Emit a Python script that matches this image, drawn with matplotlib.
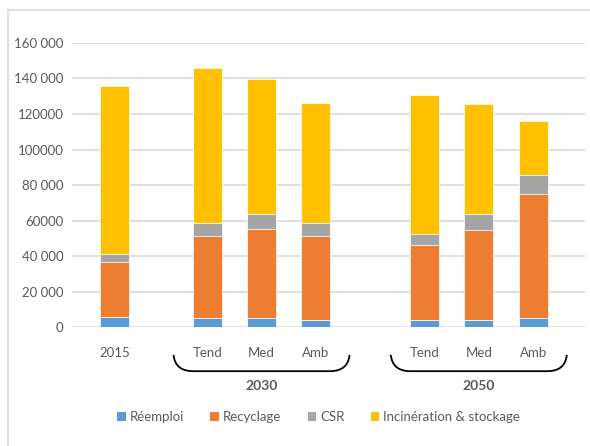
import matplotlib.pyplot as plt
from matplotlib.patches import Patch, PathPatch
from matplotlib.path import Path
import matplotlib.transforms as mtransforms

plt.rcParams['font.family'] = ['Lato', 'DejaVu Sans']

# data
labels = ['2015', 'Tend', 'Med', 'Amb', 'Tend', 'Med', 'Amb']
slots = [0, 1.7, 2.7, 3.7, 5.7, 6.7, 7.7]
groups = ['2030', '2050']
group_centers = [2.7, 6.7]

reemploi = [5600, 5400, 5400, 4300, 4300, 4300, 5400]
recyclage = [31000, 46200, 49800, 47300, 42200, 50600, 69600]
csr = [4800, 7100, 8600, 7100, 6000, 8900, 10900]
incineration = [94400, 87100, 75800, 67400, 78200, 62000, 30000]

series = [('Réemploi', reemploi, '#5B9BD5'),
          ('Recyclage', recyclage, '#ED7D31'),
          ('CSR', csr, '#A5A5A5'),
          ('Incinération & stockage', incineration, '#FFC000')]

yticks = [0, 20000, 40000, 60000, 80000, 100000, 120000, 140000, 160000]
ytick_labels = ['0', '20 000', '40 000', '60000', '80 000', '100000', '120000', '140 000', '160 000']

grey = '#595959'

fig = plt.figure(figsize=(5.9, 4.46), dpi=100)
ax = fig.add_axes([0.122, 0.266, 0.870, 0.638])

bottom = [0] * len(slots)
for name, vals, col in series:
    ax.bar(slots, vals, width=0.53, bottom=bottom, color=col,
           edgecolor='white', linewidth=0.5, zorder=3)
    bottom = [b + v for b, v in zip(bottom, vals)]

ax.set_xlim(-0.79, 8.66)
ax.set_ylim(0, 160000)
ax.set_yticks(yticks)
ax.set_yticklabels(ytick_labels, color=grey, fontsize=9.5)
ax.set_xticks(slots)
ax.set_xticklabels(labels, color=grey, fontsize=9.5)
ax.tick_params(axis='y', length=0, pad=6)
ax.tick_params(axis='x', length=0, pad=14)
ax.grid(axis='y', color='#D9D9D9', linewidth=1.2, zorder=0)
for s in ax.spines.values():
    s.set_visible(False)

# braces under the scenario groups
trans = mtransforms.blended_transform_factory(ax.transData, ax.transAxes)
for g, c in zip(groups, group_centers):
    x0, x1 = c - 1.62, c + 1.62
    ytop, ybot = -0.097, -0.154
    verts = [(x0, ytop), (x0 + 0.03, ybot), (x0 + 0.36, ybot),
             (x1 - 0.36, ybot), (x1 - 0.03, ybot), (x1, ytop)]
    codes = [Path.MOVETO, Path.CURVE3, Path.CURVE3,
             Path.LINETO, Path.CURVE3, Path.CURVE3]
    ax.add_patch(PathPatch(Path(verts, codes), transform=trans, fill=False,
                           edgecolor='black', linewidth=1.3, clip_on=False))
    ax.text(c, -0.205, g, transform=trans, ha='center', va='center',
            fontsize=10, fontweight='bold', color=grey)

handles = [Patch(facecolor=col, edgecolor='none') for _, _, col in series]
fig.legend(handles, [n for n, _, _ in series], loc='center', ncol=4,
           bbox_to_anchor=(0.54, 0.064), frameon=False, fontsize=9.5,
           handlelength=0.65, handleheight=0.65, handletextpad=0.3,
           columnspacing=2.0, labelcolor=grey)

# chart area border (left and top only visible)
fig.add_artist(plt.Line2D([0.0136, 0.0136], [0, 0.977], color='#D9D9D9', linewidth=1.2))
fig.add_artist(plt.Line2D([0.0136, 1], [0.977, 0.977], color='#D9D9D9', linewidth=1.2))

fig.savefig('out.png', dpi=100)
